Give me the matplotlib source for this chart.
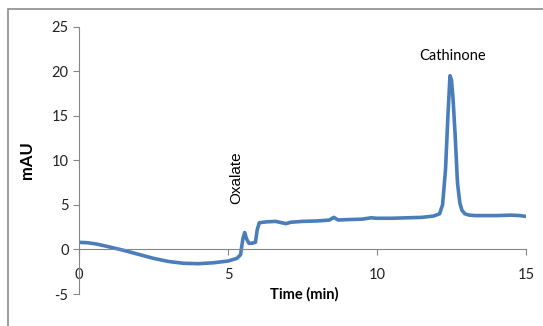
import matplotlib
matplotlib.use("Agg")
import matplotlib.pyplot as plt
from matplotlib.patches import Rectangle

# chromatogram trace
time_min = [0.0, 0.3, 0.6, 1.0, 1.5, 2.0, 2.5, 3.0, 3.5, 4.0, 4.5, 5.0, 5.3, 5.42,
            5.5, 5.56, 5.62, 5.7, 5.8, 5.92, 5.98, 6.05, 6.3, 6.6, 6.8, 6.95, 7.1,
            7.5, 8.0, 8.4, 8.55, 8.7, 9.0, 9.5, 9.8, 10.0, 10.5, 11.0, 11.5, 11.9,
            12.1, 12.2, 12.3, 12.38, 12.45, 12.5, 12.55, 12.62, 12.7, 12.78, 12.85,
            12.95, 13.1, 13.3, 13.7, 14.0, 14.5, 14.8, 15.0]
mau = [0.8, 0.75, 0.6, 0.3, -0.1, -0.55, -1.0, -1.35, -1.55, -1.6, -1.5, -1.3, -1.0, -0.6,
       1.2, 1.9, 1.2, 0.7, 0.7, 0.8, 2.2, 3.0, 3.1, 3.15, 3.0, 2.9, 3.05,
       3.15, 3.2, 3.3, 3.6, 3.3, 3.35, 3.4, 3.55, 3.5, 3.5, 3.55, 3.6, 3.75,
       4.0, 5.0, 9.0, 15.0, 19.5, 19.0, 17.0, 13.0, 7.5, 5.2, 4.4,
       4.0, 3.85, 3.8, 3.8, 3.8, 3.85, 3.8, 3.7]

x_ticks = [0, 5, 10, 15]
y_ticks = [-5, 0, 5, 10, 15, 20, 25]

peak_names = ["Oxalate", "Cathinone"]
peak_pos = [(5.27, 8.0), (12.52, 21.7)]

plt.rcParams["font.family"] = ["Lato", "DejaVu Sans"]
plt.rcParams["axes.unicode_minus"] = False

fig = plt.figure(figsize=(5.43, 3.26), dpi=100)
# outer chart frame
fig.patches.append(Rectangle((8 / 543, -0.1), 1.2, 1 - 9 / 326 + 0.1,
                             transform=fig.transFigure, fill=False,
                             edgecolor="#8c8c8c", linewidth=1.2))

ax = fig.add_axes([79 / 543, 1 - 294 / 326, (526 - 79) / 543, (294 - 26.7) / 326])
ax.plot(time_min, mau, color="#4a7ebb", linewidth=2.6, solid_joinstyle="round")

ax.set_xlim(0, 15)
ax.set_ylim(-5, 25)
ax.set_xticks(x_ticks)
ax.set_yticks(y_ticks)

for s in ["top", "right"]:
    ax.spines[s].set_visible(False)
ax.spines["bottom"].set_position(("data", 0))
ax.spines["bottom"].set_color("#868686")
ax.spines["left"].set_color("#868686")
ax.tick_params(axis="both", colors="#868686", labelcolor="#222222", labelsize=10.5, length=4)
ax.tick_params(axis="x", pad=9)

ax.set_ylabel("mAU", fontsize=12, fontweight="bold", labelpad=12)
ax.text(7.55, -5.0, "Time (min)", fontsize=10.5, fontweight="bold", ha="center", va="center")

ax.text(peak_pos[0][0], peak_pos[0][1], peak_names[0], rotation=90, fontsize=11,
        ha="center", va="center", family=["Liberation Sans", "DejaVu Sans"])
ax.text(peak_pos[1][0], peak_pos[1][1], peak_names[1], fontsize=10.5, ha="center", va="center")

fig.savefig("out.png", dpi=100)
